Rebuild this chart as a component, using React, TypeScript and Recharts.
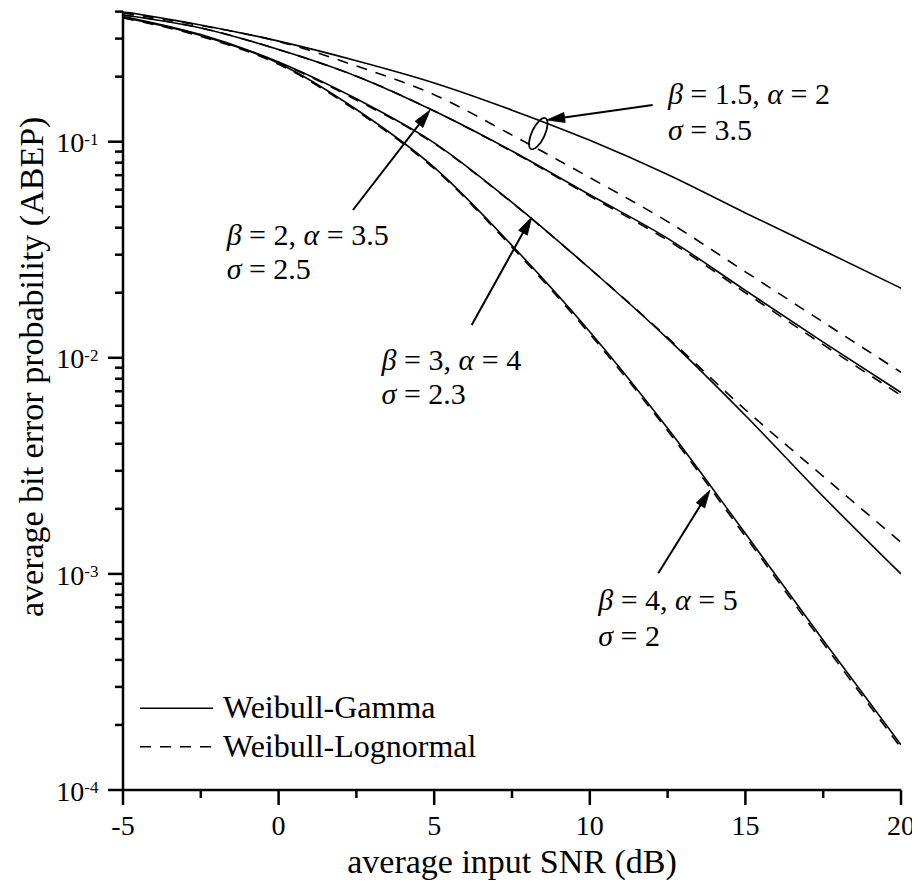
import React from 'react';
import { LineChart, Line, XAxis, YAxis, Legend, ReferenceLine, ReferenceDot, Label } from 'recharts';

// ---------- data ----------
const snrDb = [-5, -2.5, 0, 2.5, 5, 7.5, 10, 12.5, 15, 17.5, 20];

// beta = 1.5, alpha = 2, sigma = 3.5
const wgB15 = [0.4, 0.347, 0.292, 0.237, 0.187, 0.14, 0.1015, 0.0705, 0.0468, 0.0314, 0.021];
const wlB15 = [0.394, 0.345, 0.291, 0.224, 0.165, 0.1073, 0.0682, 0.0427, 0.025, 0.01462, 0.00857];
// beta = 2, alpha = 3.5, sigma = 2.5
const wgB2 = [0.386, 0.336, 0.267, 0.201, 0.1387, 0.0906, 0.0568, 0.0357, 0.0205, 0.01182, 0.00691];
const wlB2 = [0.386, 0.336, 0.267, 0.201, 0.1387, 0.09, 0.056, 0.035, 0.02, 0.0115, 0.0067];
// beta = 3, alpha = 4, sigma = 2.3
const wgB3 = [0.38, 0.313, 0.234, 0.158, 0.0988, 0.0524, 0.0259, 0.01227, 0.00541, 0.00228, 0.000999];
const wlB3 = [0.378, 0.311, 0.232, 0.156, 0.098, 0.0522, 0.0259, 0.0124, 0.00575, 0.00283, 0.0014];
// beta = 4, alpha = 5, sigma = 2
const wgB4 = [0.3756, 0.31, 0.2306, 0.1409, 0.076, 0.0331, 0.0132, 0.00472, 0.001537, 0.000493, 0.000162];
const wlB4 = [0.374, 0.307, 0.228, 0.139, 0.075, 0.0325, 0.0129, 0.0046, 0.00149, 0.000478, 0.000157];

const xTicks = [-5, -2.5, 0, 2.5, 5, 7.5, 10, 12.5, 15, 17.5, 20];
const xMajorTicks = [-5, 0, 5, 10, 15, 20];
const xTickLabels = ['-5', '0', '5', '10', '15', '20'];
const yDecades = [-4, -3, -2, -1];
const yExpLabels = ['-4', '-3', '-2', '-1'];
const yMantissas = [1, 2, 3, 4, 5, 6, 7, 8, 9];
const yTopValue = 0.4;

const noteBeta = ['1.5', '2', '3', '4'];
const noteAlpha = ['2', '3.5', '4', '5'];
const noteSigma = ['3.5', '2.5', '2.3', '2'];

const seriesNames = ['Weibull-Gamma', 'Weibull-Lognormal'];

// ---------- derived tables ----------
const data = snrDb.map((x, i) => ({
  snr: x,
  wg1: wgB15[i], wl1: wlB15[i],
  wg2: wgB2[i], wl2: wlB2[i],
  wg3: wgB3[i], wl3: wlB3[i],
  wg4: wgB4[i], wl4: wlB4[i],
}));

const yTicks: number[] = [];
yDecades.forEach((d) => {
  yMantissas.forEach((m) => {
    const v = parseFloat((m * Math.pow(10, d)).toPrecision(6));
    if (v <= yTopValue + 1e-12) yTicks.push(v);
  });
});

// annotation placement (data coordinates)
const notePos = [
  { x: 12.51, y: 0.1494, gap: 36 },
  { x: -1.67, y: 0.03326, gap: 33.5 },
  { x: 3.31, y: 0.00878, gap: 33.5 },
  { x: 10.27, y: 0.000681, gap: 36.5 },
];
const arrows = [
  { from: { x: 12.02, y: 0.148 }, to: { x: 8.615, y: 0.126 } },
  { from: { x: 2.39, y: 0.0483 }, to: { x: 4.865, y: 0.14 } },
  { from: { x: 6.205, y: 0.01419 }, to: { x: 8.133, y: 0.0448 } },
  { from: { x: 12.2, y: 0.001007 }, to: { x: 13.862, y: 0.002445 } },
];
const ellipsePos = { x: 8.345, y: 0.109 };

// ---------- styling ----------
const FONT = "'Liberation Serif', 'Times New Roman', Times, serif";
const fontStyle = { fontFamily: FONT };
const AXIS_W = 2.5;
const LINE_W = 1.6;
const DASH = '11 9';

const XTick = (props: any) => {
  const { x, y, payload } = props;
  const v = payload.value;
  const idx = xMajorTicks.findIndex((t) => Math.abs(t - v) < 1e-9);
  const major = idx >= 0;
  return (
    <g>
      <line x1={x} y1={y} x2={x} y2={y + (major ? 15 : 8)} stroke="#000" strokeWidth={AXIS_W} />
      {major && (
        <text x={x} y={y + 45} textAnchor="middle" style={fontStyle} fontFamily={FONT} fontSize={28} fill="#000">
          {xTickLabels[idx]}
        </text>
      )}
    </g>
  );
};

const YTick = (props: any) => {
  const { x, y, payload } = props;
  const v = payload.value;
  const e = Math.log10(v);
  const major = Math.abs(e - Math.round(e)) < 1e-6;
  const idx = yDecades.indexOf(Math.round(e));
  return (
    <g>
      <line x1={x - (major ? 15 : 8)} y1={y} x2={x} y2={y} stroke="#000" strokeWidth={AXIS_W} />
      {major && idx >= 0 && (
        <text x={x - 24.5} y={y + 10.6} textAnchor="end" style={fontStyle} fontFamily={FONT} fontSize={28} fill="#000">
          <tspan>10</tspan>
          <tspan dy={-7.5} fontSize={17}>{yExpLabels[idx]}</tspan>
        </text>
      )}
    </g>
  );
};

const arrowShape = (p: any) => {
  const { x1, y1, x2, y2 } = p;
  if (![x1, y1, x2, y2].every((n) => typeof n === 'number' && isFinite(n))) return <g />;
  const dx = x2 - x1;
  const dy = y2 - y1;
  const L = Math.hypot(dx, dy) || 1;
  const ux = dx / L;
  const uy = dy / L;
  const hl = 18;
  const hw = 5;
  const bx = x2 - ux * hl;
  const by = y2 - uy * hl;
  const pts = `${x2},${y2} ${bx - uy * hw},${by + ux * hw} ${bx + uy * hw},${by - ux * hw}`;
  return (
    <g>
      <line x1={x1} y1={y1} x2={bx + ux * 2} y2={by + uy * 2} stroke="#000" strokeWidth={2} />
      <polygon points={pts} fill="#000" stroke="#000" strokeWidth={0.8} strokeLinejoin="miter" />
    </g>
  );
};

const makeNote = (i: number) => (p: any) => {
  const { cx, cy } = p;
  if (typeof cx !== 'number' || typeof cy !== 'number') return <g />;
  return (
    <text x={cx} y={cy} style={fontStyle} fontFamily={FONT} fontSize={30} fill="#000">
      <tspan fontStyle="italic">β</tspan>
      <tspan>{` = ${noteBeta[i]}, `}</tspan>
      <tspan fontStyle="italic">α</tspan>
      <tspan>{` = ${noteAlpha[i]}`}</tspan>
      <tspan x={cx} dy={notePos[i].gap} fontStyle="italic">σ</tspan>
      <tspan>{` = ${noteSigma[i]}`}</tspan>
    </text>
  );
};

const ellipseShape = (p: any) => {
  const { cx, cy } = p;
  if (typeof cx !== 'number' || typeof cy !== 'number') return <g />;
  return (
    <ellipse cx={cx} cy={cy} rx={6.5} ry={17} transform={`rotate(25 ${cx} ${cy})`} fill="none" stroke="#000" strokeWidth={1.8} />
  );
};

const LegendContent = (props: any) => {
  const payload: any[] = (props && props.payload) || [];
  const fromPayload = payload.map((e) => String(e.value)).filter((n) => seriesNames.includes(n));
  const names = fromPayload.length === seriesNames.length ? fromPayload : seriesNames;
  return (
    <svg width={420} height={80} style={{ display: 'block', overflow: 'visible' }}>
      {names.map((n, i) => (
        <g key={n}>
          <line
            x1={0}
            y1={20.3 + i * 38.4}
            x2={73}
            y2={20.3 + i * 38.4}
            stroke="#000"
            strokeWidth={LINE_W}
            strokeDasharray={n === seriesNames[1] ? DASH : undefined}
          />
          <text x={83} y={30.3 + i * 38.4} style={fontStyle} fontFamily={FONT} fontSize={32} fill="#000">
            {n}
          </text>
        </g>
      ))}
    </svg>
  );
};

const XTitle = (p: any) => {
  const vb = p.viewBox || { x: 115, y: 782, width: 778, height: 90 };
  return (
    <text x={vb.x + vb.width / 2} y={vb.y + 83} textAnchor="middle" style={fontStyle} fontFamily={FONT} fontSize={34} fill="#000">
      average input SNR (dB)
    </text>
  );
};

const YTitle = (p: any) => {
  const vb = p.viewBox || { x: 0, y: 3.6, width: 115, height: 778.4 };
  const tx = vb.x + 35;
  const ty = vb.y + vb.height / 2 - 34;
  return (
    <text x={tx} y={ty} textAnchor="middle" style={fontStyle} fontFamily={FONT} fontSize={34} fill="#000" transform={`rotate(-90 ${tx} ${ty})`}>
      average bit error probability (ABEP)
    </text>
  );
};

const lineCommon = {
  type: 'monotone' as const,
  stroke: '#000',
  strokeWidth: LINE_W,
  dot: false,
  activeDot: false,
  isAnimationActive: false,
};

export default function App() {
  return (
    <div style={{ width: 912, height: 872, fontFamily: FONT }}>
      <LineChart width={912} height={872} data={data} margin={{ top: 3.6, right: 19, left: 0, bottom: 0 }} style={fontStyle}>
        <XAxis
          dataKey="snr"
          type="number"
          domain={[-5, 20]}
          ticks={xTicks}
          interval={0}
          height={90}
          tickSize={0}
          tickMargin={0}
          tickLine={false}
          axisLine={{ stroke: '#000', strokeWidth: AXIS_W }}
          tick={<XTick />}
          allowDataOverflow
        >
          <Label content={<XTitle />} />
        </XAxis>
        <YAxis
          type="number"
          scale="log"
          domain={[1e-4, yTopValue]}
          ticks={yTicks}
          interval={0}
          width={115}
          tickSize={0}
          tickMargin={0}
          tickLine={false}
          axisLine={{ stroke: '#000', strokeWidth: AXIS_W }}
          tick={<YTick />}
          allowDataOverflow
        >
          <Label content={<YTitle />} />
        </YAxis>

        <Line {...lineCommon} dataKey="wg1" name={seriesNames[0]} />
        <Line {...lineCommon} dataKey="wl1" name={seriesNames[1]} strokeDasharray={DASH} />
        <Line {...lineCommon} dataKey="wg2" name="Weibull-Gamma β=2" legendType="none" />
        <Line {...lineCommon} dataKey="wl2" name="Weibull-Lognormal β=2" legendType="none" strokeDasharray={DASH} />
        <Line {...lineCommon} dataKey="wg3" name="Weibull-Gamma β=3" legendType="none" />
        <Line {...lineCommon} dataKey="wl3" name="Weibull-Lognormal β=3" legendType="none" strokeDasharray={DASH} />
        <Line {...lineCommon} dataKey="wg4" name="Weibull-Gamma β=4" legendType="none" />
        <Line {...lineCommon} dataKey="wl4" name="Weibull-Lognormal β=4" legendType="none" strokeDasharray={DASH} />

        {arrows.map((a, i) => (
          <ReferenceLine key={`arrow${i}`} segment={[a.from, a.to]} ifOverflow="visible" shape={arrowShape} />
        ))}
        <ReferenceDot x={ellipsePos.x} y={ellipsePos.y} r={1} ifOverflow="visible" shape={ellipseShape} />
        {notePos.map((n, i) => (
          <ReferenceDot key={`note${i}`} x={n.x} y={n.y} r={1} ifOverflow="visible" shape={makeNote(i)} />
        ))}

        <Legend
          verticalAlign="middle"
          align="center"
          layout="horizontal"
          wrapperStyle={{ left: 132, top: 680, width: 420, height: 80 }}
          content={<LegendContent />}
        />
      </LineChart>
    </div>
  );
}
